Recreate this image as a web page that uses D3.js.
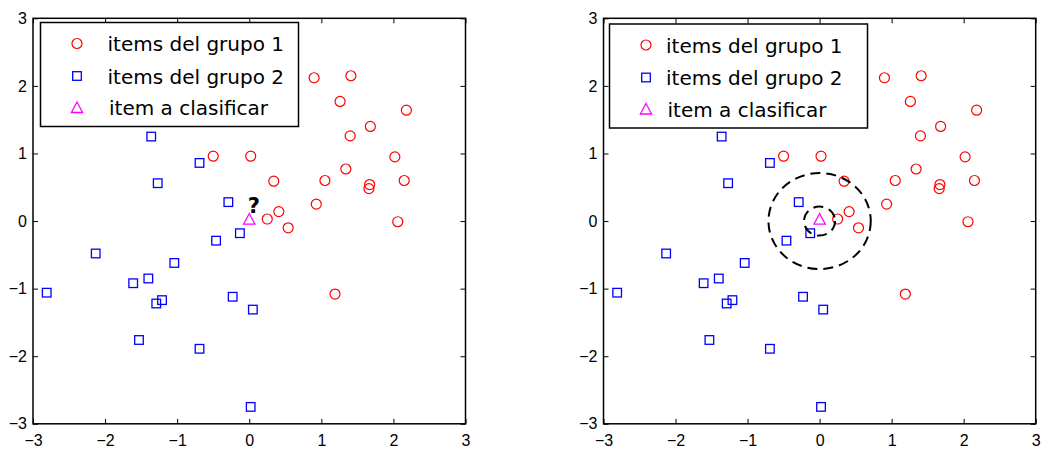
<!DOCTYPE html>
<html>
<head>
<meta charset="utf-8">
<script src="https://cdn.jsdelivr.net/npm/d3@7"></script>
<style>
  html, body { margin: 0; padding: 0; background: #fff; }
  svg { display: block; }
</style>
</head>
<body>
<div id="chart"></div>
<script>
// group 1 (red circles)
const group1X = [0.90, 1.41, 1.26, 2.18, 1.68, 1.40, -0.50, 0.02, 2.02, 1.34, 0.34,
                 1.05, 2.15, 1.67, 1.66, 0.93, 0.41, 0.25, 0.54, 2.06, 1.19];
const group1Y = [2.12, 2.15, 1.77, 1.64, 1.40, 1.26, 0.96, 0.96, 0.95, 0.77, 0.59,
                 0.60, 0.60, 0.54, 0.48, 0.25, 0.14, 0.03, -0.10, -0.01, -1.08];
// group 2 (blue squares)
const group2X = [-1.36, -0.69, -1.27, -0.29, -0.13, -0.46, -2.13, -1.04, -1.40,
                 -1.61, -2.81, -1.21, -1.29, -0.23, 0.05, -1.53, -0.69, 0.02];
const group2Y = [1.25, 0.86, 0.56, 0.28, -0.18, -0.29, -0.48, -0.62, -0.85,
                 -0.92, -1.06, -1.17, -1.22, -1.12, -1.31, -1.76, -1.89, -2.75];
// item to classify
const queryPoint = [0, 0];
// neighbourhood radii drawn in the right panel
const neighbourRadii = [0.215, 0.71];

const legendLabels = ['items del grupo 1', 'items del grupo 2', 'item a clasificar'];
const tickValues = [-3, -2, -1, 0, 1, 2, 3];

const width = 1049, height = 457;
const svg = d3.select('#chart').append('svg')
  .attr('width', width)
  .attr('height', height);

const panels = [
  { left: 33, right: 465.5, showQuestion: true, showCircles: false,
    legend: { x: 7.5, y: 22.5, w: 258, h: 104, mx: 44, tx: 74.5 } },
  { left: 603.5, right: 1035.7, showQuestion: false, showCircles: true,
    legend: { x: 6, y: 24, w: 258, h: 104, mx: 42.5, tx: 62.5 } }
];
const plotTop = 18.3, plotBottom = 423.8;
const tickFmt = d3.format('d');

const markerCircle = (g, x, y) => g.append('circle')
  .attr('cx', x).attr('cy', y).attr('r', 5)
  .attr('fill', 'none').attr('stroke', '#ff0000').attr('stroke-width', 1.2);
const markerSquare = (g, x, y) => g.append('rect')
  .attr('x', x - 4.3).attr('y', y - 4.3).attr('width', 8.6).attr('height', 8.6)
  .attr('fill', 'none').attr('stroke', '#0000ff').attr('stroke-width', 1.3);
const markerTriangle = (g, x, y) => g.append('path')
  .attr('d', `M${x},${y - 7.5}L${x + 5.6},${y + 3}L${x - 5.6},${y + 3}Z`)
  .attr('fill', 'none').attr('stroke', '#ff00ff').attr('stroke-width', 1.3);

panels.forEach(p => {
  const x = d3.scaleLinear().domain([-3, 3]).range([p.left, p.right]);
  const y = d3.scaleLinear().domain([-3, 3]).range([plotBottom, plotTop]);
  const g = svg.append('g');

  // axes with inward ticks on all four sides
  const styleAxis = sel => {
    sel.attr('font-size', 16).attr('font-family', '"Liberation Sans", Arial, sans-serif');
    sel.select('.domain').remove();
    sel.selectAll('.tick line').attr('stroke', '#000').attr('stroke-width', 1);
    sel.selectAll('.tick text').attr('fill', '#000');
  };
  g.append('g').attr('transform', `translate(0,${plotBottom})`)
    .call(d3.axisBottom(x).tickValues(tickValues).tickFormat(tickFmt).tickSize(-5).tickPadding(11))
    .call(styleAxis);
  g.append('g').attr('transform', `translate(${p.left},0)`)
    .call(d3.axisLeft(y).tickValues(tickValues).tickFormat(tickFmt).tickSize(-5).tickPadding(6))
    .call(styleAxis);
  g.append('g').attr('transform', `translate(0,${plotTop})`)
    .call(d3.axisTop(x).tickValues(tickValues).tickSize(-5).tickFormat(''))
    .call(styleAxis);
  g.append('g').attr('transform', `translate(${p.right},0)`)
    .call(d3.axisRight(y).tickValues(tickValues).tickSize(-5).tickFormat(''))
    .call(styleAxis);

  g.append('rect')
    .attr('x', p.left).attr('y', plotTop)
    .attr('width', p.right - p.left).attr('height', plotBottom - plotTop)
    .attr('fill', 'none').attr('stroke', '#000').attr('stroke-width', 1.5);

  // points
  group1X.forEach((v, i) => markerCircle(g, x(v), y(group1Y[i])));
  group2X.forEach((v, i) => markerSquare(g, x(v), y(group2Y[i])));
  markerTriangle(g, x(queryPoint[0]), y(queryPoint[1]));

  if (p.showQuestion) {
    g.append('text')
      .attr('x', x(queryPoint[0]) - 1.5)
      .attr('y', y(queryPoint[1]) - 8)
      .attr('font-family', '"DejaVu Sans", sans-serif')
      .attr('font-size', 21)
      .attr('font-weight', 'bold')
      .text('?');
  }

  if (p.showCircles) {
    neighbourRadii.forEach(r => {
      g.append('ellipse')
        .attr('cx', x(queryPoint[0])).attr('cy', y(queryPoint[1]))
        .attr('rx', x(queryPoint[0] + r) - x(queryPoint[0]))
        .attr('ry', y(queryPoint[1]) - y(queryPoint[1] + r))
        .attr('fill', 'none').attr('stroke', '#000')
        .attr('stroke-width', 2).attr('stroke-dasharray', '10,6');
    });
  }

  // legend
  const L = p.legend;
  const lg = g.append('g').attr('transform', `translate(${p.left + L.x},${L.y})`);
  lg.append('rect').attr('width', L.w).attr('height', L.h)
    .attr('fill', '#fff').attr('stroke', '#000').attr('stroke-width', 1.5);
  const rowY = [21, 53.5, 85];
  const markers = [markerCircle, markerSquare, markerTriangle];
  legendLabels.forEach((label, i) => {
    markers[i](lg, L.mx - L.x, rowY[i] + (i === 2 ? 2 : 0));
    lg.append('text')
      .attr('x', L.tx - L.x + (i === 2 ? 1.5 : 0))
      .attr('y', rowY[i] + 7.5)
      .attr('font-family', '"DejaVu Sans", sans-serif')
      .attr('font-size', 20)
      .text(label);
  });
});
</script>
</body>
</html>
